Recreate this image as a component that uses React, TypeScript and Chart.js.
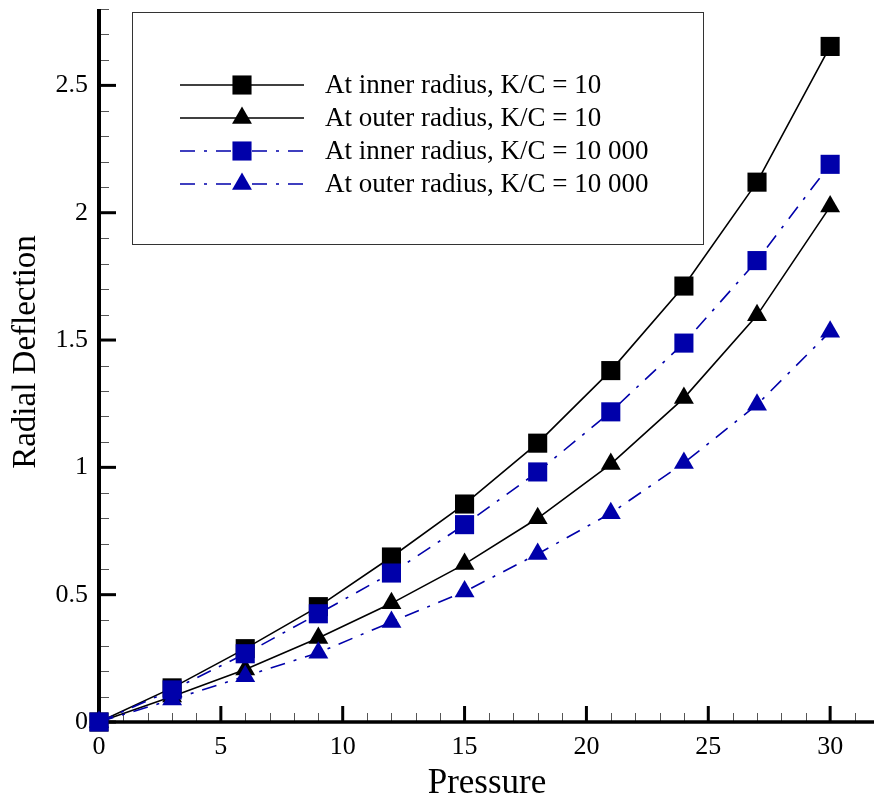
import React, { useEffect, useRef } from "react";
import { Chart, registerables } from "chart.js";

Chart.register(...registerables);

const pressure = [0, 3, 6, 9, 12, 15, 18, 21, 24, 27, 30];
const innerK10 = [0, 0.134, 0.288, 0.453, 0.648, 0.856, 1.095, 1.38, 1.712, 2.12, 2.653];
const outerK10 = [0, 0.1, 0.206, 0.33, 0.466, 0.62, 0.8, 1.013, 1.272, 1.597, 2.024];
const innerK10000 = [0, 0.126, 0.268, 0.425, 0.585, 0.775, 0.982, 1.218, 1.488, 1.812, 2.19];
const outerK10000 = [0, 0.088, 0.18, 0.272, 0.393, 0.512, 0.66, 0.82, 1.017, 1.246, 1.533];

const seriesLabels = [
  "At inner radius, K/C = 10",
  "At outer radius, K/C = 10",
  "At inner radius, K/C = 10 000",
  "At outer radius, K/C = 10 000",
];

const xMajorTicks = [0, 5, 10, 15, 20, 25, 30];
const yMajorTicks = [0, 0.5, 1, 1.5, 2, 2.5];
const xTitle = "Pressure";
const yTitle = "Radial Deflection";

const BLUE = "#0000AA";
const FONT = "'Liberation Serif', 'Times New Roman', serif";
const DASH = [15, 9, 3, 9];

function pts(ys: number[]) {
  return pressure.map((x, i) => ({ x, y: ys[i] }));
}

const axesPlugin = {
  id: "tecAxes",
  beforeDatasetsDraw(chart: any) {
    const { ctx, chartArea } = chart;
    const xs = chart.scales.x;
    const ys = chart.scales.y;
    ctx.save();
    // minor y ticks
    ctx.strokeStyle = "#555";
    ctx.lineWidth = 1;
    for (let i = 0; i <= 28; i++) {
      const v = i / 10;
      if (i % 5 === 0) continue;
      const py = Math.round(ys.getPixelForValue(v)) + 0.5;
      ctx.beginPath();
      ctx.moveTo(chartArea.left, py);
      ctx.lineTo(chartArea.left + 10, py);
      ctx.stroke();
    }
    // minor x ticks
    for (let i = 0; i <= 31; i++) {
      if (i % 5 === 0) continue;
      const px = Math.round(xs.getPixelForValue(i)) + 0.5;
      ctx.beginPath();
      ctx.moveTo(px, chartArea.bottom);
      ctx.lineTo(px, chartArea.bottom - 9);
      ctx.stroke();
    }
    // major ticks
    ctx.strokeStyle = "#000";
    ctx.lineWidth = 3;
    yMajorTicks.forEach((v) => {
      const py = ys.getPixelForValue(v);
      ctx.beginPath();
      ctx.moveTo(chartArea.left, py);
      ctx.lineTo(chartArea.left + 17, py);
      ctx.stroke();
    });
    xMajorTicks.forEach((v) => {
      const px = xs.getPixelForValue(v);
      ctx.beginPath();
      ctx.moveTo(px, chartArea.bottom);
      ctx.lineTo(px, chartArea.bottom - 16);
      ctx.stroke();
    });
    // axis lines
    ctx.lineWidth = 4;
    ctx.beginPath();
    ctx.moveTo(chartArea.left, chartArea.top);
    ctx.lineTo(chartArea.left, chartArea.bottom + 1.5);
    ctx.stroke();
    ctx.lineWidth = 3.5;
    ctx.beginPath();
    ctx.moveTo(chartArea.left - 2, chartArea.bottom);
    ctx.lineTo(chart.width, chartArea.bottom);
    ctx.stroke();
    ctx.restore();
  },
  afterDraw(chart: any) {
    const { ctx } = chart;
    ctx.save();
    // axis titles
    ctx.fillStyle = "#000";
    ctx.font = `35px ${FONT}`;
    ctx.textAlign = "center";
    ctx.textBaseline = "alphabetic";
    ctx.fillText(xTitle, (427 + 547) / 2, 793);
    ctx.translate(35, 352);
    ctx.rotate(-Math.PI / 2);
    ctx.font = `33px ${FONT}`;
    ctx.fillText(yTitle, 0, 0);
    ctx.restore();

    // legend box
    ctx.save();
    ctx.fillStyle = "#fff";
    ctx.fillRect(132.5, 12.5, 571, 232);
    ctx.strokeStyle = "#333";
    ctx.lineWidth = 1;
    ctx.strokeRect(132.5, 12.5, 571, 232);
    const rowY = [85, 118, 151, 184];
    chart.data.datasets.forEach((ds: any, i: number) => {
      const y = rowY[i];
      ctx.save();
      ctx.strokeStyle = ds.borderColor;
      ctx.lineWidth = ds.borderWidth;
      ctx.setLineDash(ds.borderDash || []);
      ctx.beginPath();
      ctx.moveTo(180, y);
      ctx.lineTo(304, y);
      ctx.stroke();
      ctx.restore();
      ctx.save();
      ctx.fillStyle = ds.pointBackgroundColor;
      ctx.setLineDash([]);
      const r = ds.pointRadius;
      if (ds.pointStyle === "rect") {
        const s = r * Math.SQRT1_2;
        ctx.fillRect(242 - s, y - s, 2 * s, 2 * s);
      } else {
        ctx.beginPath();
        ctx.moveTo(242, y - r);
        ctx.lineTo(242 + 0.866 * r, y + r / 2);
        ctx.lineTo(242 - 0.866 * r, y + r / 2);
        ctx.closePath();
        ctx.fill();
      }
      ctx.restore();
      ctx.fillStyle = "#000";
      ctx.font = `27px ${FONT}`;
      ctx.textAlign = "left";
      ctx.textBaseline = "middle";
      ctx.fillText(ds.label, 325, y + 1);
    });
    ctx.restore();
  },
};

export default function App() {
  const ref = useRef<HTMLCanvasElement>(null);
  useEffect(() => {
    if (!ref.current) return;
    const mk = (
      label: string,
      data: number[],
      color: string,
      style: string,
      dash: number[],
      order: number
    ) => ({
      label,
      data: pts(data),
      borderColor: color,
      backgroundColor: color,
      borderWidth: 1.6,
      borderDash: dash,
      pointStyle: style,
      pointRadius: style === "rect" ? 13.5 : 11.5,
      pointHoverRadius: style === "rect" ? 13.5 : 11.5,
      pointBackgroundColor: color,
      pointBorderColor: color,
      pointBorderWidth: 0,
      tension: 0,
      clip: false as any,
      order,
    });
    const chart = new Chart(ref.current, {
      type: "line",
      data: {
        datasets: [
          mk(seriesLabels[0], innerK10, "#000", "rect", [], 3),
          mk(seriesLabels[1], outerK10, "#000", "triangle", [], 2),
          mk(seriesLabels[2], innerK10000, BLUE, "rect", DASH, 1),
          mk(seriesLabels[3], outerK10000, BLUE, "triangle", DASH, 0),
        ] as any,
      },
      options: {
        animation: false,
        responsive: false,
        maintainAspectRatio: false,
        devicePixelRatio: 1,
        layout: { autoPadding: false, padding: { top: 9, left: 0, right: 0, bottom: 0 } },
        plugins: {
          legend: { display: false },
          tooltip: { enabled: false },
          title: { display: false },
        },
        scales: {
          x: {
            type: "linear",
            min: 0,
            max: 31.8,
            border: { display: false },
            grid: { display: false, drawTicks: false },
            afterBuildTicks: (s: any) => {
              s.ticks = xMajorTicks.map((v) => ({ value: v }));
            },
            afterFit: (s: any) => {
              s.height = 80;
              s.paddingLeft = 0;
              s.paddingRight = 0;
              s.paddingTop = 0;
              s.paddingBottom = 0;
            },
            ticks: {
              padding: 10,
              maxRotation: 0,
              autoSkip: false,
              color: "#000",
              font: { family: FONT, size: 26 },
              callback: (v: any) => String(v),
            },
          },
          y: {
            type: "linear",
            min: 0,
            max: 2.8,
            border: { display: false },
            grid: { display: false, drawTicks: false },
            afterBuildTicks: (s: any) => {
              s.ticks = yMajorTicks.map((v) => ({ value: v }));
            },
            afterFit: (s: any) => {
              s.width = 99;
              s.paddingLeft = 0;
              s.paddingRight = 0;
              s.paddingTop = 0;
              s.paddingBottom = 0;
            },
            ticks: {
              padding: 11,
              autoSkip: false,
              color: "#000",
              font: { family: FONT, size: 26 },
              callback: (v: any) => String(v),
            },
          },
        },
      },
      plugins: [axesPlugin],
    });
    return () => chart.destroy();
  }, []);
  return (
    <div style={{ position: "fixed", left: 0, top: 0, width: 874, height: 802, background: "#fff" }}>
      <canvas ref={ref} width={874} height={802} style={{ width: 874, height: 802 }} />
    </div>
  );
}
